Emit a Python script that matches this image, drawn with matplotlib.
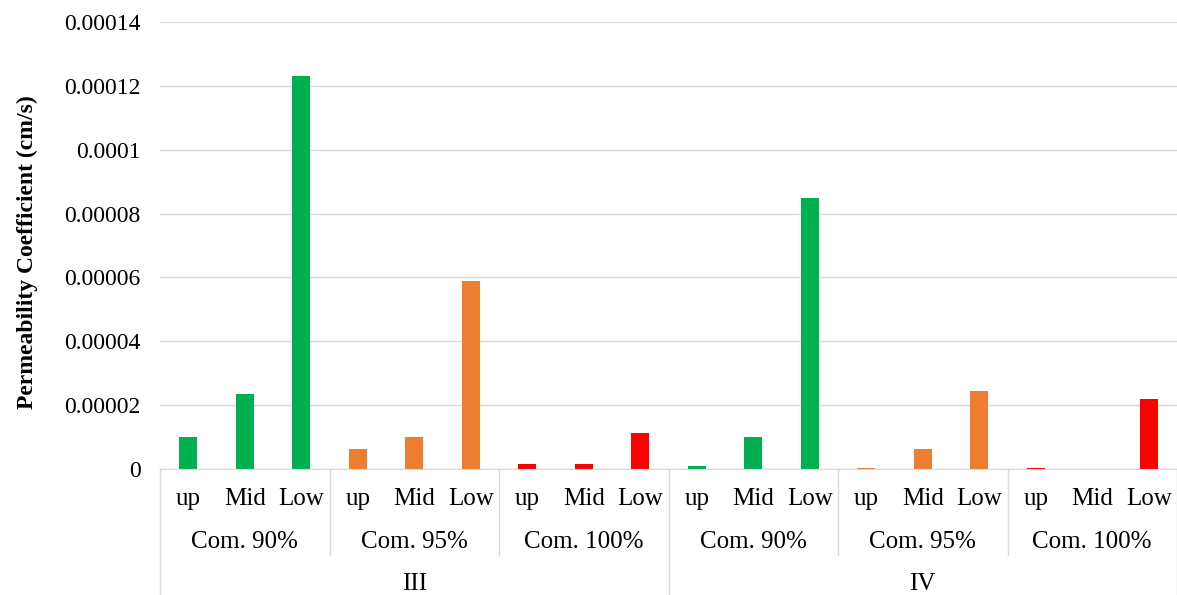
import matplotlib.pyplot as plt
import numpy as np

# data
positions = ['up', 'Mid', 'Low']
compactions = ['Com. 90%', 'Com. 95%', 'Com. 100%']
groups = ['III', 'IV']
colors = ['#00B050', '#ED7D31', '#FF0000']

values_III = [1.0e-5, 2.35e-5, 1.23e-4,
              6.3e-6, 1.0e-5, 5.9e-5,
              1.6e-6, 1.6e-6, 1.13e-5]
values_IV = [0.9e-6, 1.0e-5, 8.5e-5,
             0.4e-6, 6.3e-6, 2.45e-5,
             0.4e-6, 0.0, 2.19e-5]

yticks = [0, 0.00002, 0.00004, 0.00006, 0.00008, 0.0001, 0.00012, 0.00014]
ytick_labels = ['0', '0.00002', '0.00004', '0.00006', '0.00008', '0.0001', '0.00012', '0.00014']

plt.rcParams['font.family'] = ['Liberation Serif', 'DejaVu Serif']

fig = plt.figure(figsize=(11.77, 5.95), dpi=100)
ax = fig.add_axes([160 / 1177, 1 - 469 / 595, 1017 / 1177, 447 / 595])

vals = values_III + values_IV
x = np.arange(len(vals))
bar_colors = [colors[(i // 3) % 3] for i in range(len(vals))]
ax.bar(x, vals, width=0.32, color=bar_colors, zorder=3)

ax.set_xlim(-0.5, len(vals) - 0.5)
ax.set_ylim(0, 0.00014)
ax.set_yticks(yticks)
ax.set_yticklabels(ytick_labels, fontsize=17)
ax.tick_params(axis='y', length=0, pad=14)
ax.set_xticks([])
ax.grid(axis='y', color='#D9D9D9', linewidth=1, zorder=0)
for s in ['top', 'right', 'left']:
    ax.spines[s].set_visible(False)
ax.spines['bottom'].set_color('#D9D9D9')
ax.spines['bottom'].set_zorder(4)

ax.set_ylabel('Permeability Coefficient (cm/s)', fontsize=17, fontweight='bold')
ax.yaxis.set_label_coords(-0.12, 0.485)

tr = ax.get_xaxis_transform()
# category labels
for i in range(len(vals)):
    ax.text(x[i], -0.068, positions[i % 3], transform=tr, ha='center', va='center', fontsize=18)
for g in range(len(vals) // 3):
    ax.text(g * 3 + 1, -0.163, compactions[g % 3], transform=tr, ha='center', va='center', fontsize=18)
for k, name in enumerate(groups):
    ax.text(k * 9 + 4, -0.257, name, transform=tr, ha='center', va='center', fontsize=18)

# separators
for xs in [2.5, 5.5, 11.5, 14.5]:
    ax.plot([xs, xs], [0, -0.192], transform=tr, color='#D9D9D9', lw=1, clip_on=False)
for xs in [-0.5, 8.5, 17.5]:
    ax.plot([xs, xs], [0, -0.3], transform=tr, color='#D9D9D9', lw=1, clip_on=False)

fig.savefig('out.png', dpi=100)
